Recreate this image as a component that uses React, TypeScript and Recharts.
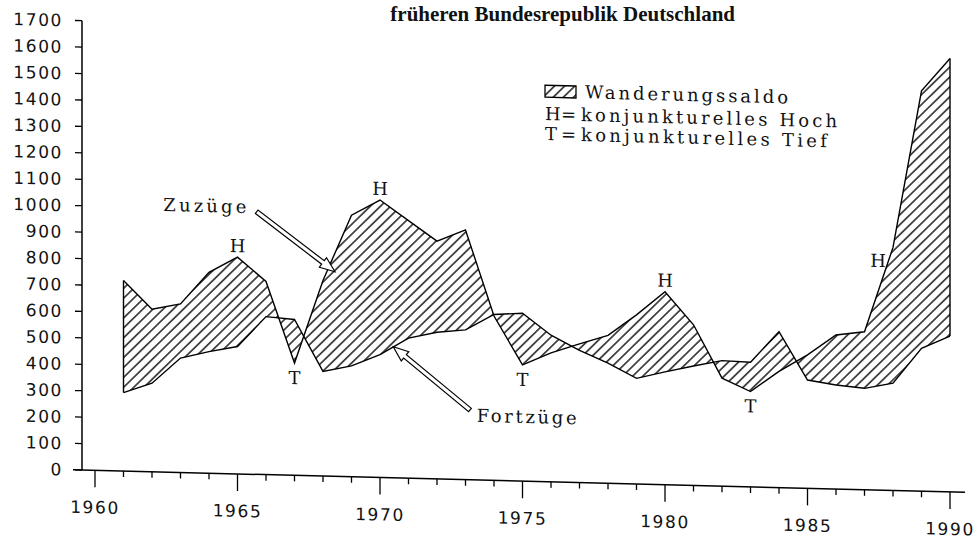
import React from "react";
import { ComposedChart, Area, Line, XAxis, YAxis, ReferenceDot, ReferenceLine } from "recharts";

// Zu- und Fortzüge über die Grenzen des früheren Bundesgebiets, in 1000
const years = [1961, 1962, 1963, 1964, 1965, 1966, 1967, 1968, 1969, 1970, 1971, 1972, 1973, 1974, 1975, 1976, 1977, 1978, 1979, 1980, 1981, 1982, 1983, 1984, 1985, 1986, 1987, 1988, 1989, 1990];
const zuzuege = [721, 615, 638, 760, 820, 731, 425, 740, 990, 1050, 975, 900, 945, 622, 440, 488, 525, 560, 640, 730, 608, 409, 361, 440, 505, 583, 598, 920, 1515, 1640];
const fortzuege = [297, 335, 433, 460, 482, 598, 590, 396, 420, 465, 530, 555, 567, 628, 635, 555, 500, 455, 400, 427, 452, 475, 472, 590, 410, 394, 384, 406, 541, 590];

const yTicks = [0, 100, 200, 300, 400, 500, 600, 700, 800, 900, 1000, 1100, 1200, 1300, 1400, 1500, 1600, 1700];
const xTicks = [1960, 1961, 1962, 1963, 1964, 1965, 1966, 1967, 1968, 1969, 1970, 1971, 1972, 1973, 1974, 1975, 1976, 1977, 1978, 1979, 1980, 1981, 1982, 1983, 1984, 1985, 1986, 1987, 1988, 1989, 1990];

// konjunkturelle Hochs / Tiefs
const highs = [1965, 1970, 1980, 1988];
const lows = [1967, 1975, 1983];

const rows = years.map((year, i) => ({
  year,
  zu: zuzuege[i],
  fort: fortzuege[i],
  saldo: [fortzuege[i], zuzuege[i]],
}));

const sans = '"DejaVu Sans", sans-serif';
const typewriter = '"DejaVu Serif", serif';

const ValueTick = ({ x, y, payload }: any) => (
  <g>
    <line x1={x - 7} y1={y} x2={x} y2={y} stroke="#000" strokeWidth={1.3} />
    <text x={x - 19} y={y} dy="0.36em" textAnchor="end" fontFamily={sans} fontSize={17} letterSpacing={1.6} fill="#111">
      {payload.value}
    </text>
  </g>
);

const YearTick = ({ x, y, payload }: any) => {
  const major = payload.value % 5 === 0;
  return (
    <g>
      <line x1={x} y1={y} x2={x} y2={y + (major ? 17 : 6)} stroke="#000" strokeWidth={1.3} />
      {major && (
        <text x={x} y={y + 43} textAnchor="middle" fontFamily={sans} fontSize={17} letterSpacing={1.6} fill="#111">
          {payload.value}
        </text>
      )}
    </g>
  );
};

const marker = (letter: string, dx: number, dy: number) => (p: any) => (
  <text x={p.cx + dx} y={p.cy + dy} textAnchor="middle" fontFamily={typewriter} fontSize={18} fill="#111">
    {letter}
  </text>
);

function arrow(sx: number, sy: number, tx: number, ty: number) {
  const len = Math.hypot(tx - sx, ty - sy);
  const ux = (tx - sx) / len;
  const uy = (ty - sy) / len;
  const nx = -uy;
  const ny = ux;
  const hw = 2.2, headW = 6, headL = 15;
  const bx = tx - ux * headL;
  const by = ty - uy * headL;
  const pts = [
    [sx + nx * hw, sy + ny * hw],
    [bx + nx * hw, by + ny * hw],
    [bx + nx * headW, by + ny * headW],
    [tx, ty],
    [bx - nx * headW, by - ny * headW],
    [bx - nx * hw, by - ny * hw],
    [sx - nx * hw, sy - ny * hw],
  ];
  return pts.map((p) => p.join(",")).join(" ");
}

export default function App() {
  const last = years.length - 1;
  return (
    <div style={{ position: "absolute", left: 0, top: 0, width: 979, height: 540, background: "#fff", overflow: "hidden" }}>
      <svg width={979} height={540} style={{ position: "absolute", left: 0, top: 0 }}>
        <text x={735} y={21} textAnchor="end" fontFamily='"Liberation Serif", serif' fontWeight="bold" fontSize={21} fill="#111">
          früheren Bundesrepublik Deutschland
        </text>
      </svg>
      {/* the scan is slightly skewed */}
      <div style={{ position: "absolute", left: 0, top: 0, width: 979, height: 540, transform: "skewY(1.45deg)", transformOrigin: "82px 470px" }}>
        <ComposedChart width={979} height={540} data={rows} margin={{ top: 20.7, right: 14, bottom: 10, left: 0 }}>
          <defs>
            <pattern id="hatch" width="7" height="7" patternUnits="userSpaceOnUse" patternTransform="rotate(45)">
              <line x1="3.5" y1="0" x2="3.5" y2="7" stroke="#000" strokeWidth="1.3" />
            </pattern>
          </defs>
          <XAxis
            type="number"
            dataKey="year"
            domain={[1959.544, 1990.526]}
            allowDataOverflow
            ticks={xTicks}
            interval={0}
            tick={<YearTick />}
            tickLine={false}
            tickSize={0}
            tickMargin={0}
            height={60}
            axisLine={{ stroke: "#000", strokeWidth: 1.5 }}
          />
          <YAxis
            type="number"
            domain={[0, 1700]}
            allowDataOverflow
            ticks={yTicks}
            interval={0}
            tick={<ValueTick />}
            tickLine={false}
            tickSize={0}
            tickMargin={0}
            width={82}
            axisLine={{ stroke: "#000", strokeWidth: 1.5 }}
          />
          <Area dataKey="saldo" type="linear" stroke="none" fill="url(#hatch)" fillOpacity={1} isAnimationActive={false} activeDot={false} />
          <Line dataKey="zu" name="Zuzüge" type="linear" stroke="#000" strokeWidth={1.4} dot={false} activeDot={false} isAnimationActive={false} />
          <Line dataKey="fort" name="Fortzüge" type="linear" stroke="#000" strokeWidth={1.4} dot={false} activeDot={false} isAnimationActive={false} />
          <ReferenceLine segment={[{ x: years[0], y: fortzuege[0] }, { x: years[0], y: zuzuege[0] }]} stroke="#000" strokeWidth={1.4} />
          <ReferenceLine segment={[{ x: years[last], y: fortzuege[last] }, { x: years[last], y: zuzuege[last] }]} stroke="#000" strokeWidth={1.4} />
          {highs.map((yr) => (
            <ReferenceDot
              key={"h" + yr}
              x={yr}
              y={zuzuege[years.indexOf(yr)]}
              r={0}
              shape={yr === 1988 ? marker("H", -15, 20) : marker("H", 0, -5)}
            />
          ))}
          {lows.map((yr) => (
            <ReferenceDot key={"t" + yr} x={yr} y={zuzuege[years.indexOf(yr)]} r={0} shape={marker("T", 0, 21)} />
          ))}
        </ComposedChart>
        <svg width={979} height={540} style={{ position: "absolute", left: 0, top: 0, pointerEvents: "none" }}>
          <line x1={73} y1={470} x2={82} y2={470} stroke="#000" strokeWidth={1.5} />
          <rect x={545} y={73.5} width={31} height={12} fill="url(#hatch)" stroke="#000" strokeWidth={1.3} />
          <g fontFamily={typewriter} fontSize={18} fill="#111">
            <text x={585} y={85.6} textLength={203} lengthAdjust="spacing">Wanderungssaldo</text>
            <text x={545} y={108.3}>H</text>
            <text x={561} y={108.3}>=</text>
            <text x={581} y={108.3} textLength={256} lengthAdjust="spacing">konjunkturelles Hoch</text>
            <text x={545} y={128.3}>T</text>
            <text x={561} y={128.3}>=</text>
            <text x={581} y={128.3} textLength={246} lengthAdjust="spacing">konjunkturelles Tief</text>
            <text x={163.3} y={208.9} textLength={83} lengthAdjust="spacing">Zuzüge</text>
            <text x={476.7} y={411.7} textLength={100} lengthAdjust="spacing">Fortzüge</text>
          </g>
          <polygon points={arrow(256.7, 207.3, 335, 265.3)} fill="#fff" stroke="#000" strokeWidth={1.2} />
          <polygon points={arrow(470, 400.2, 393.3, 338.8)} fill="#fff" stroke="#000" strokeWidth={1.2} />
        </svg>
      </div>
    </div>
  );
}
